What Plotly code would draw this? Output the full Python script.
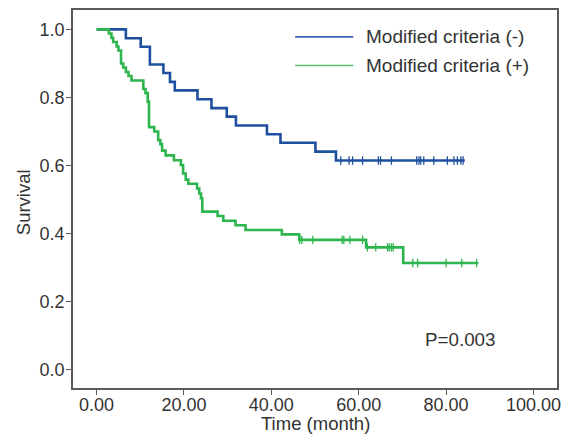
import plotly.graph_objects as go

# ---- data ----
neg_times = [0, 6.7, 10.1, 12.2, 15.3, 16.8, 17.9, 23.1, 26.3, 29.8, 31.9, 39.0, 42.1, 50.1, 54.8]
neg_surv = [1.0, 0.974, 0.949, 0.897, 0.872, 0.846, 0.821, 0.795, 0.769, 0.744, 0.718, 0.692, 0.667, 0.641, 0.615]
neg_end = 84.3
neg_censor = [55.9, 57.8, 58.6, 60.9, 64.5, 65.0, 67.5, 73.3, 73.8, 74.2, 74.9, 77.2, 80.3, 81.8, 82.6, 83.4, 83.9]

pos_times = [0, 2.8, 3.4, 3.8, 4.6, 5.0, 5.6, 6.1, 6.7, 7.3, 8.0, 10.7, 11.2, 11.7, 12.0, 13.2, 14.1, 14.6,
             15.0, 15.8, 17.7, 19.3, 19.8, 20.4, 21.0, 23.0, 23.5, 23.9, 24.2, 27.7, 29.0, 31.8, 34.1, 42.4,
             46.4, 61.7, 70.2]
pos_surv = [1.0, 0.988, 0.975, 0.963, 0.950, 0.938, 0.900, 0.888, 0.875, 0.863, 0.850, 0.825, 0.813, 0.788,
            0.713, 0.700, 0.675, 0.663, 0.644, 0.630, 0.616, 0.602, 0.577, 0.559, 0.547, 0.533, 0.518, 0.504,
            0.465, 0.452, 0.438, 0.425, 0.411, 0.398, 0.382, 0.360, 0.314]
pos_end = 87.4
pos_censor = [46.5, 47.0, 49.5, 56.2, 56.6, 58.0, 60.9, 62.0, 63.9, 66.6, 67.0, 67.5, 67.9, 72.4, 73.5, 80.0, 83.6, 87.0]

series_names = ["Modified criteria (-)", "Modified criteria (+)"]
p_label = "P=0.003"
x_title = "Time (month)"
y_title = "Survival"
x_ticks = [0, 20, 40, 60, 80, 100]
x_ticklabels = ["0.00", "20.00", "40.00", "60.00", "80.00", "100.00"]
y_ticks = [0.0, 0.2, 0.4, 0.6, 0.8, 1.0]

BLUE = "#1f4f9f"
GREEN = "#2eb54e"
BLUE_LEG = "#3d62ad"
GREEN_LEG = "#5cc065"
FONT = "Liberation Sans, Arial, sans-serif"
TXT = "#333333"
AX = "#5a5a5a"


def step_at(times, surv, t):
    v = surv[0]
    for ti, si in zip(times, surv):
        if ti <= t:
            v = si
    return v


fig = go.Figure()

for times, surv, end, cens, col in [
    (neg_times, neg_surv, neg_end, neg_censor, BLUE),
    (pos_times, pos_surv, pos_end, pos_censor, GREEN),
]:
    fig.add_trace(go.Scatter(
        x=list(times) + [end], y=list(surv) + [surv[-1]],
        mode="lines", line=dict(color=col, width=2.6, shape="hv"),
        showlegend=False, hoverinfo="skip"))
    fig.add_trace(go.Scatter(
        x=cens, y=[step_at(times, surv, c) for c in cens],
        mode="markers",
        marker=dict(symbol="line-ns-open", size=6, color=col, line=dict(color=col, width=1.3)),
        showlegend=False, hoverinfo="skip"))

# manual legend (thin lines, as in reference)
leg_y = [0.929, 0.853]
for name, col, yy in zip(series_names, [BLUE_LEG, GREEN_LEG], leg_y):
    fig.add_shape(type="line", xref="paper", yref="paper", x0=0.459, x1=0.579, y0=yy, y1=yy,
                  line=dict(color=col, width=1.6))
    fig.add_annotation(xref="paper", yref="paper", x=0.601, y=yy, text=name, showarrow=False,
                       xanchor="left", yanchor="middle", font=dict(family=FONT, size=19, color=TXT))

fig.add_annotation(x=83.4, y=0.09, text=p_label, showarrow=False, xanchor="center", yanchor="middle",
                   font=dict(family=FONT, size=18.8, color=TXT))

# axis titles
fig.add_annotation(xref="paper", yref="paper", x=0.5, y=-0.094, text=x_title, showarrow=False,
                   xanchor="center", yanchor="middle", font=dict(family=FONT, size=18.5, color=TXT))
fig.add_annotation(xref="paper", yref="paper", x=-0.103, y=0.492, text=y_title, showarrow=False,
                   textangle=-90, xanchor="center", yanchor="middle",
                   font=dict(family=FONT, size=18.5, color=TXT))

fig.update_layout(
    width=571, height=438,
    margin=dict(l=73, r=14, t=10, b=50),
    paper_bgcolor="white", plot_bgcolor="white",
    font=dict(family=FONT, size=18, color=TXT),
    showlegend=False,
)
fig.update_xaxes(
    range=[-5.4, 105.4], tickvals=x_ticks, ticktext=x_ticklabels, automargin=False,
    showgrid=False, zeroline=False, showline=True, linecolor=AX, linewidth=1.5, mirror=True,
    ticks="outside", ticklen=5, tickcolor=AX, tickwidth=1.2, ticklabelstandoff=-5,
)
fig.update_yaxes(
    range=[-0.053, 1.057], tickvals=y_ticks, tickformat=".1f", automargin=False,
    showgrid=False, zeroline=False, showline=True, linecolor=AX, linewidth=1.5, mirror=True,
    ticks="outside", ticklen=5, tickcolor=AX, tickwidth=1.2, ticklabelstandoff=-2,
)

fig.write_html("out.html")
